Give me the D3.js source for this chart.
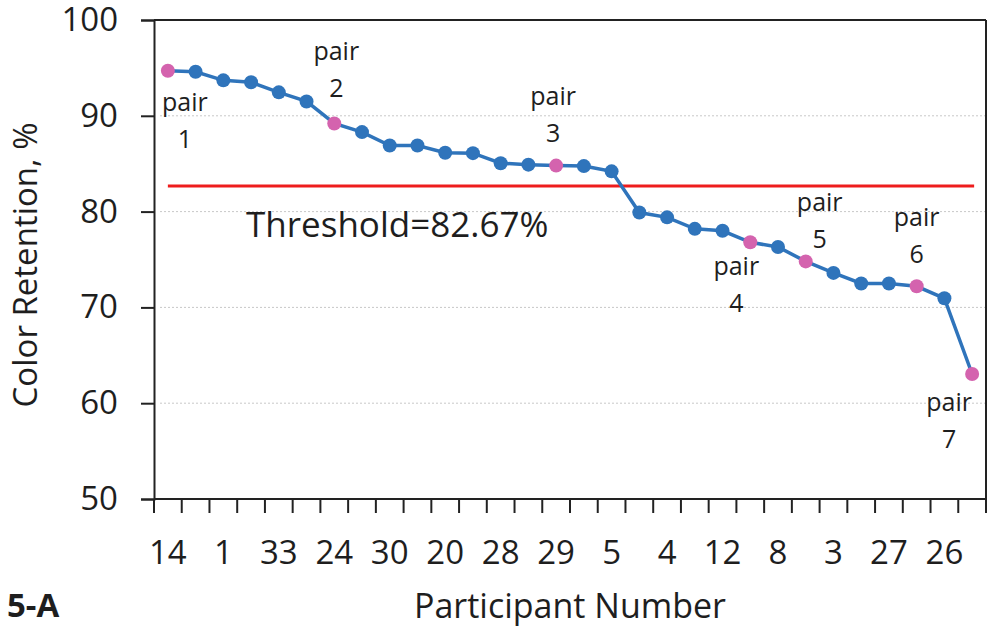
<!DOCTYPE html>
<html lang="en">
<head>
  <meta charset="UTF-8">
  <title>Color Retention</title>
  <style>
    body { margin: 0; background: #fff; }
    text { font-family: "Open Sans", sans-serif; fill: #1e1e1e; }
  </style>
</head>
<body>
  <svg width="987" height="629"></svg>
  <script src="https://d3js.org/d3.v7.min.js"></script>
  <script>

  // participant order (only every other label is printed on the axis)
  var tickLabels = ['14', '1', '33', '24', '30', '20', '28', '29', '5', '4', '12', '8', '3', '27', '26'];

  // color retention, % for the 30 participants, sorted high to low
  var retention = [94.7, 94.6, 93.7, 93.5, 92.45, 91.5, 89.2, 88.3, 86.9, 86.9,
                   86.15, 86.1, 85.05, 84.9, 84.8, 84.75, 84.2, 79.9, 79.4, 78.2,
                   78.0, 76.8, 76.3, 74.8, 73.6, 72.5, 72.5, 72.2, 70.95, 63.05];

  // indexes of the highlighted pair points
  var pairIndex = [0, 6, 14, 21, 23, 27, 29];
  var pairNames = ['1', '2', '3', '4', '5', '6', '7'];

  var threshold = 82.67;
  var yTicks = [50, 60, 70, 80, 90, 100];

  var svg = d3.select('svg');

  var mLeft = 154, mRight = 986, mTop = 20, mBottom = 499;

  var x = d3.scaleBand()
    .domain(d3.range(retention.length))
    .range([mLeft, mRight]);

  var y = d3.scaleLinear()
    .domain([50, 100])
    .range([mBottom, mTop]);

  var cx = function(i) { return x(i) + x.bandwidth() / 2; };

  // dotted gridlines
  svg.append('g')
    .selectAll('line')
    .data(yTicks.slice(1, -1))
    .enter()
    .append('line')
    .attr('x1', mLeft + 6).attr('x2', mRight)
    .attr('y1', function(d) { return y(d); })
    .attr('y2', function(d) { return y(d); })
    .attr('stroke', '#c8c8c8')
    .attr('stroke-width', 1)
    .attr('stroke-dasharray', '2,2');

  // frame top and right
  svg.append('line')
    .attr('x1', mLeft).attr('x2', mRight).attr('y1', mTop).attr('y2', mTop)
    .attr('stroke', '#222').attr('stroke-width', 2);
  svg.append('line')
    .attr('x1', mRight).attr('x2', mRight).attr('y1', mTop).attr('y2', mBottom)
    .attr('stroke', '#222').attr('stroke-width', 2);

  // y axis
  var yAxis = svg.append('g')
    .attr('transform', 'translate(' + mLeft + ',0)')
    .call(d3.axisLeft(y).tickValues(yTicks).tickSize(13).tickPadding(23));

  // x axis: ticks on band edges, labels on every other band
  var xAxis = svg.append('g')
    .attr('transform', 'translate(0,' + mBottom + ')');

  xAxis.append('line')
    .attr('x1', mLeft).attr('x2', mRight)
    .attr('stroke', '#222').attr('stroke-width', 2);

  xAxis.selectAll('.edge')
    .data(d3.range(retention.length + 1))
    .enter()
    .append('line')
    .attr('class', 'edge')
    .attr('x1', function(i) { return mLeft + i * x.step(); })
    .attr('x2', function(i) { return mLeft + i * x.step(); })
    .attr('y1', 0).attr('y2', 14)
    .attr('stroke', '#222').attr('stroke-width', 2);

  xAxis.selectAll('.lab')
    .data(tickLabels)
    .enter()
    .append('text')
    .attr('class', 'lab')
    .attr('x', function(d, i) { return cx(i * 2); })
    .attr('y', 65)
    .attr('text-anchor', 'middle')
    .style('font-size', '33px')
    .text(function(d) { return d; });

  yAxis.select('.domain').attr('stroke', '#222').attr('stroke-width', 2);
  yAxis.selectAll('.tick line').attr('stroke', '#222').attr('stroke-width', 2);
  yAxis.selectAll('.tick text')
    .style('font-size', '33px')
    .style('font-family', '"Open Sans", sans-serif')
    .attr('fill', '#1e1e1e');

  // threshold line
  svg.append('line')
    .attr('x1', cx(0)).attr('x2', cx(retention.length - 1) + 2)
    .attr('y1', y(threshold)).attr('y2', y(threshold))
    .attr('stroke', '#ee1c1c')
    .attr('stroke-width', 3);

  svg.append('text')
    .attr('x', 246)
    .attr('y', y(threshold) + 51)
    .style('font-size', '35px')
    .text('Threshold=' + threshold + '%');

  // data line
  var line = d3.line()
    .x(function(d, i) { return cx(i); })
    .y(function(d) { return y(d); });

  svg.append('path')
    .datum(retention)
    .attr('d', line)
    .attr('fill', 'none')
    .attr('stroke', '#2f74bb')
    .attr('stroke-width', 3.5);

  svg.append('g')
    .selectAll('circle')
    .data(retention)
    .enter()
    .append('circle')
    .attr('cx', function(d, i) { return cx(i); })
    .attr('cy', function(d) { return y(d); })
    .attr('r', 7)
    .attr('fill', function(d, i) { return pairIndex.indexOf(i) >= 0 ? '#d463ae' : '#2f74bb'; });

  // pair label offsets from their point, in pixels
  var labelOffset = [[17, 40], [2, -63], [-3, -61], [-14, 33], [14, -50], [0, -60], [-23, 37]];

  var labels = svg.append('g')
    .selectAll('text')
    .data(pairIndex)
    .enter()
    .append('text')
    .attr('text-anchor', 'middle')
    .style('font-size', '25px')
    .attr('transform', function(d, k) {
      return 'translate(' + (cx(d) + labelOffset[k][0]) + ',' + (y(retention[d]) + labelOffset[k][1]) + ')';
    });

  labels.append('tspan').attr('x', 0).attr('y', 0).text('pair');
  labels.append('tspan').attr('x', 0).attr('y', 37).text(function(d, k) { return pairNames[k]; });

  // axis titles
  svg.append('text')
    .attr('transform', 'translate(37,265) rotate(-90)')
    .attr('text-anchor', 'middle')
    .style('font-size', '33px')
    .text('Color Retention, %');

  svg.append('text')
    .attr('x', 570)
    .attr('y', 618)
    .attr('text-anchor', 'middle')
    .style('font-size', '34px')
    .text('Participant Number');

  svg.append('text')
    .attr('x', 7)
    .attr('y', 617)
    .style('font-size', '33px')
    .style('font-weight', 'bold')
    .text('5-A');

  </script>
</body>
</html>
